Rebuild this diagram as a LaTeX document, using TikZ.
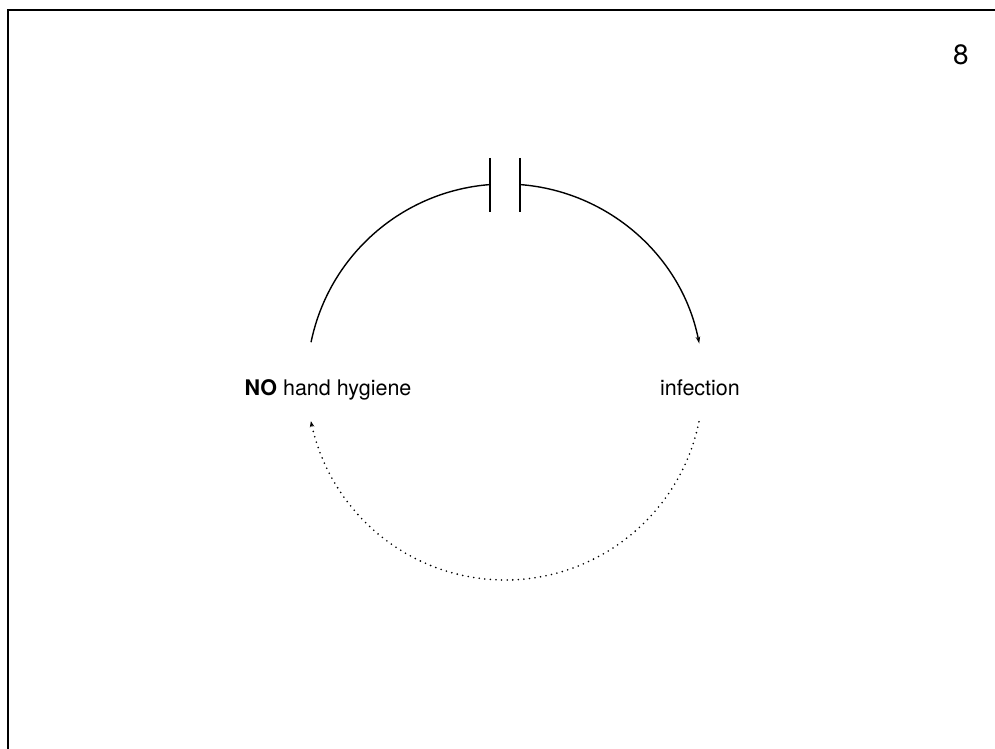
\documentclass[tikz,border=0pt]{standalone}
\usepackage{fontspec}
\setmainfont{TeX Gyre Heros}
\usetikzlibrary{arrows.meta,calc}
\begin{document}
\begin{tikzpicture}[x=1pt,y=1pt,
  frameline/.style={line width=2.6pt,black},
  arcline/.style={line width=1.4pt,black},
  dotline/.style={line width=1.8pt,black,line cap=round,dash pattern=on 0pt off 5.6pt},
  tip/.style={-{Stealth[length=7pt,width=4.5pt]}},
  lbl/.style={font=\fontsize{21.5}{26}\selectfont,inner sep=0pt,anchor=base}
]
\useasboundingbox (0,0) rectangle (995,748);
\draw[frameline] (8,-5) -- (8,738) -- (1005,738);
\node[font=\fontsize{28}{32}\selectfont,inner sep=0pt] (num) at (961,693) {8};
\coordinate (c) at (505,366);
\node[lbl] (no) at (328,353) {\textbf{NO} hand hygiene};
\node[lbl] (inf) at (700,353) {infection};
% barrier bars
\draw[arcline] (490,590) coordinate (b1t) -- (490,536) coordinate (b1b);
\draw[arcline] (520,590) coordinate (b2t) -- (520,536) coordinate (b2b);
% top arcs
\draw[arcline] ($(c)+(168.4:198)$) arc[start angle=168.4,end angle=94.3,radius=198];
\draw[arcline,tip] ($(c)+(85.7:198)$) arc[start angle=85.7,end angle=11.2,radius=198];
% bottom dotted arc
\draw[dotline] ($(c)+(-11.6:198)$) arc[start angle=-11.6,end angle=-167,radius=198];
\draw[line width=1.2pt,-{Stealth[length=6pt,width=4.5pt]}] ($(c)+(-167:198)$) arc[start angle=-167,end angle=-168.6,radius=198];
\end{tikzpicture}
\end{document}
